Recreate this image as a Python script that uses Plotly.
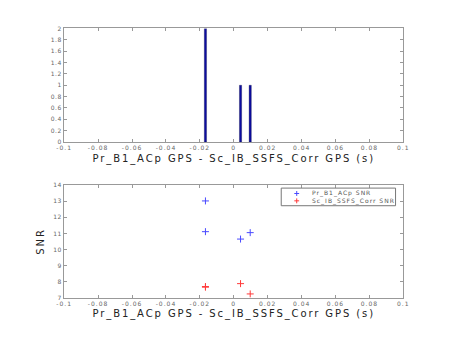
import plotly.graph_objects as go

# Histogram (top panel): bin centres and counts
hist_x = [-0.0167, 0.0040, 0.0097]
hist_counts = [2, 1, 1]

# SNR scatter (bottom panel)
pr_dt = [-0.0167, -0.0167, 0.0040, 0.0097]
pr_snr = [13.02, 11.11, 10.65, 11.05]
sc_dt = [-0.0167, -0.0167, 0.0040, 0.0097]
sc_snr = [7.66, 7.70, 7.88, 7.24]

x_ticks = [-0.1, -0.08, -0.06, -0.04, -0.02, 0, 0.02, 0.04, 0.06, 0.08, 0.1]
x_tick_text = ["-0.1", "-0.08", "-0.06", "-0.04", "-0.02", "0", "0.02", "0.04", "0.06", "0.08", "0.1"]
y1_ticks = [0, 0.2, 0.4, 0.6, 0.8, 1, 1.2, 1.4, 1.6, 1.8, 2]
y1_tick_text = ["0", "0.2", "0.4", "0.6", "0.8", "1", "1.2", "1.4", "1.6", "1.8", "2"]
y2_ticks = [7, 8, 9, 10, 11, 12, 13, 14]
y2_tick_text = ["7", "8", "9", "10", "11", "12", "13", "14"]

xlabel = "Pr_B1_ACp GPS - Sc_IB_SSFS_Corr GPS (s)"
ylabel2 = "SNR"
legend_names = ["Pr_B1_ACp SNR", "Sc_IB_SSFS_Corr SNR"]
blue = "#4a4aff"
red = "#ff3a3a"


def spaced(s, px):
    return '<span style="letter-spacing:%spx">%s</span>' % (px, s)


fig = go.Figure()
fig.add_trace(go.Bar(x=hist_x, y=hist_counts, width=0.0013,
                     marker=dict(color="#0c0ca0", line=dict(color="#000030", width=0.3)),
                     xaxis="x", yaxis="y", showlegend=False))
fig.add_trace(go.Scatter(x=pr_dt, y=pr_snr, mode="markers", name=legend_names[0],
                         marker=dict(symbol="cross-thin", size=5,
                                     line=dict(color=blue, width=1)),
                         xaxis="x2", yaxis="y2", showlegend=False))
fig.add_trace(go.Scatter(x=sc_dt, y=sc_snr, mode="markers", name=legend_names[1],
                         marker=dict(symbol="cross-thin", size=5,
                                     line=dict(color=red, width=1)),
                         xaxis="x2", yaxis="y2", showlegend=False))

tickfont = dict(family="DejaVu Sans", size=6, color="#666666")
axcommon = dict(showline=True, linecolor="#999999", linewidth=1, mirror="ticks",
                ticks="inside", ticklen=3, tickcolor="#999999", showgrid=False,
                zeroline=False, tickfont=tickfont)
titlefont = dict(family="DejaVu Sans", size=10, color="#222222")

xt = [spaced(t, 1) for t in x_tick_text]
y1t = [spaced(t, 0.6) for t in y1_tick_text]
y2t = [spaced(t, 0.6) for t in y2_tick_text]

fig.update_layout(
    width=450, height=338,
    margin=dict(l=0, r=0, t=0, b=0),
    paper_bgcolor="white", plot_bgcolor="white",
    showlegend=False,
    xaxis=dict(domain=[0.1289, 0.9067], range=[-0.1, 0.1], anchor="y",
               tickvals=x_ticks, ticktext=xt,
               title=dict(text=spaced(xlabel, 1.9), font=titlefont, standoff=4), **axcommon),
    yaxis=dict(domain=[0.583, 0.926], range=[0, 2], anchor="x",
               tickvals=y1_ticks, ticktext=y1t, **axcommon),
    xaxis2=dict(domain=[0.1289, 0.9067], range=[-0.1, 0.1], anchor="y2",
                tickvals=x_ticks, ticktext=xt,
                title=dict(text=spaced(xlabel, 1.9), font=titlefont, standoff=4), **axcommon),
    yaxis2=dict(domain=[0.1124, 0.4527], range=[7, 14], anchor="x2",
                tickvals=y2_ticks, ticktext=y2t,
                title=dict(text=spaced(ylabel2, 1.9), font=titlefont, standoff=6), **axcommon),
)

# Manual legend box (Plotly's legend enforces a large minimum row height)
W, H = 450.0, 338.0
lx0, lx1 = 282 / W, 400 / W
ly0, ly1 = 1 - 206 / H, 1 - 188 / H
fig.add_shape(type="rect", xref="paper", yref="paper", x0=lx0, x1=lx1, y0=ly0, y1=ly1,
              line=dict(color="#777777", width=1), fillcolor="white")
rows_px = [193.5, 201.0]
for name, col, ypx in zip(legend_names, [blue, red], rows_px):
    cx, r = 298.0, 2.5
    fig.add_shape(type="line", xref="paper", yref="paper",
                  x0=(cx - r) / W, x1=(cx + r) / W, y0=1 - ypx / H, y1=1 - ypx / H,
                  line=dict(color=col, width=1))
    fig.add_shape(type="line", xref="paper", yref="paper",
                  x0=cx / W, x1=cx / W, y0=1 - (ypx - r) / H, y1=1 - (ypx + r) / H,
                  line=dict(color=col, width=1))
    fig.add_annotation(xref="paper", yref="paper", x=313 / W, y=1 - ypx / H,
                       text=spaced(name, 1.0), showarrow=False,
                       font=dict(family="DejaVu Sans", size=6, color="#555555"),
                       xanchor="left", yanchor="middle", borderpad=0)

fig.write_html("out.html")
